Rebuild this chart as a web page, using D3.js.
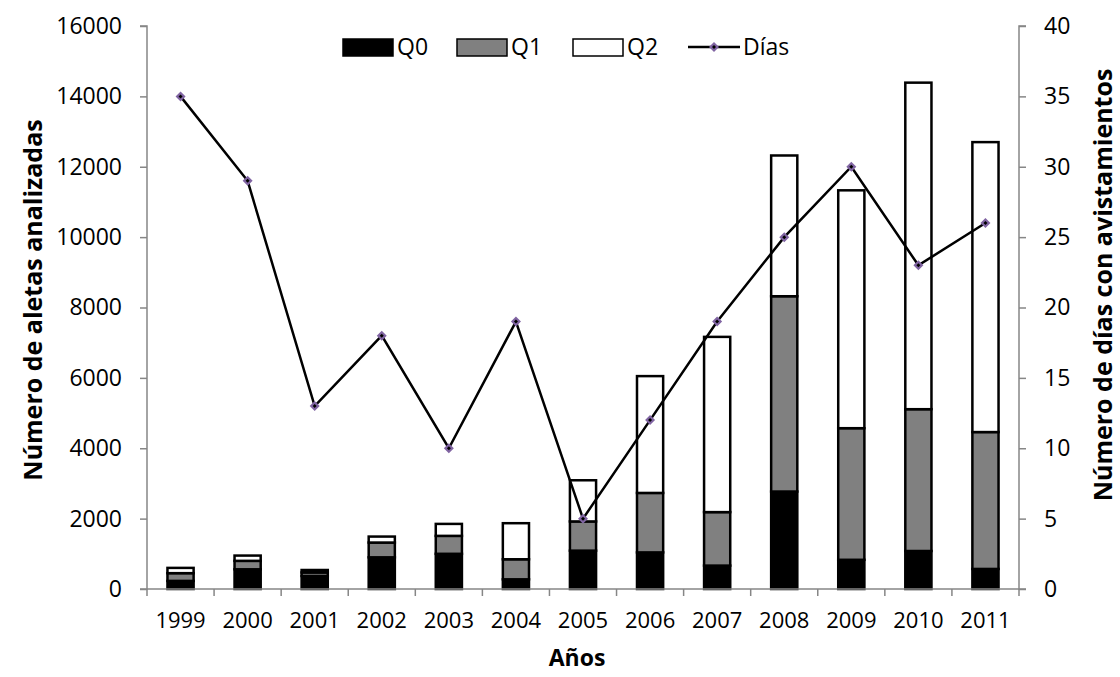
<!DOCTYPE html>
<html>
<head>
<meta charset="utf-8">
<script src="https://cdn.jsdelivr.net/npm/d3@7"></script>
<style>
  body { margin: 0; background: #fff; }
  text { font-family: "Open Sans", sans-serif; fill: #000; }
</style>
</head>
<body>
<svg width="1120" height="677"></svg>
<script>
// data
const years = ['1999','2000','2001','2002','2003','2004','2005','2006','2007','2008','2009','2010','2011'];
const q0 = [230, 560, 370, 900, 1000, 275, 1090, 1040, 665, 2770, 830, 1080, 570];
const q1 = [220, 240, 100, 420, 510, 570, 830, 1690, 1520, 5550, 3740, 4030, 3890];
const q2 = [150, 150, 70, 170, 340, 1025, 1170, 3320, 4980, 4000, 6760, 9280, 8240];
const dias = [35, 29, 13, 18, 10, 19, 5, 12, 19, 25, 30, 23, 26];
const leftTicks = [0, 2000, 4000, 6000, 8000, 10000, 12000, 14000, 16000];
const rightTicks = [0, 5, 10, 15, 20, 25, 30, 35, 40];
const seriesNames = ['Q0', 'Q1', 'Q2'];
const seriesFill = {Q0: '#000', Q1: '#808080', Q2: '#fff'};

const M = {left: 147, right: 1019, top: 26, bottom: 589};
const AXIS = '#868686';

const svg = d3.select('svg');

const x = d3.scaleBand().domain(years).range([M.left, M.right]).paddingInner(0).paddingOuter(0);
const yL = d3.scaleLinear().domain([0, 16000]).range([M.bottom, M.top]);
const yR = d3.scaleLinear().domain([0, 40]).range([M.bottom, M.top]);

// table for the stack
const table = years.map((yr, i) => ({year: yr, Q0: q0[i], Q1: q1[i], Q2: q2[i]}));
const stacked = d3.stack().keys(seriesNames)(table);

const barW = x.bandwidth() * 0.39;

/* ---------- bars ---------- */
const layers = svg.append('g').selectAll('g')
    .data(stacked)
    .join('g')
    .attr('fill', d => seriesFill[d.key]);

layers.selectAll('rect')
    .data(d => d)
    .join('rect')
    .attr('x', d => x(d.data.year) + (x.bandwidth() - barW) / 2)
    .attr('y', d => yL(d[1]))
    .attr('width', barW)
    .attr('height', d => yL(d[0]) - yL(d[1]))
    .attr('stroke', '#000')
    .attr('stroke-width', 2.5);

/* ---------- axes ---------- */
const gL = svg.append('g').attr('transform', `translate(${M.left},0)`)
    .call(d3.axisLeft(yL).tickValues(leftTicks).tickSize(7).tickPadding(18).tickFormat(d3.format('d')));
const gR = svg.append('g').attr('transform', `translate(${M.right},0)`)
    .call(d3.axisRight(yR).tickValues(rightTicks).tickSize(7).tickPadding(18));
const gX = svg.append('g').attr('transform', `translate(0,${M.bottom})`)
    .call(d3.axisBottom(x).tickSize(0).tickPadding(23));

// category boundary ticks on the x axis
gX.selectAll('.bnd')
    .data(years.concat(['end']))
    .join('line')
    .attr('class', 'bnd')
    .attr('x1', (d, i) => i < years.length ? x(d) : M.right)
    .attr('x2', (d, i) => i < years.length ? x(d) : M.right)
    .attr('y1', 0).attr('y2', 7);

[gL, gR, gX].forEach(g => {
  g.select('.domain').attr('stroke', AXIS).attr('stroke-width', 1.5);
  g.selectAll('line').attr('stroke', AXIS).attr('stroke-width', 1.5);
  g.selectAll('text').attr('font-size', 23).attr('font-family', '"Open Sans", sans-serif').attr('fill', '#000');
});
gX.selectAll('text').attr('font-size', 22);
gX.select('.domain').attr('d', `M${M.left},0H${M.right}`);
gL.select('.domain').attr('d', `M-7,${M.top}H0V${M.bottom}H-7`);
gR.select('.domain').attr('d', `M7,${M.top}H0V${M.bottom}H7`);

/* ---------- days line ---------- */
const line = d3.line()
    .x((d, i) => x(years[i]) + x.bandwidth() / 2)
    .y(d => yR(d));

svg.append('path')
    .datum(dias)
    .attr('d', line)
    .attr('fill', 'none')
    .attr('stroke', '#000')
    .attr('stroke-width', 2.5)
    .attr('stroke-linejoin', 'miter');

function marker(g, cx, cy) {
  g.append('path')
    .attr('d', `M${cx},${cy - 5}L${cx + 5},${cy}L${cx},${cy + 5}L${cx - 5},${cy}Z`)
    .attr('fill', '#8064A2');
  g.append('path')
    .attr('d', `M${cx},${cy - 2}L${cx + 2},${cy}L${cx},${cy + 2}L${cx - 2},${cy}Z`)
    .attr('fill', '#000');
}
const mk = svg.append('g');
dias.forEach((d, i) => marker(mk, x(years[i]) + x.bandwidth() / 2, yR(d)));

/* ---------- axis titles ---------- */
svg.append('text')
    .attr('transform', 'translate(42,300) rotate(-90)')
    .attr('text-anchor', 'middle')
    .attr('font-size', 25).attr('font-weight', 700)
    .text('Número de aletas analizadas');
svg.append('text')
    .attr('transform', 'translate(1112,285) rotate(-90)')
    .attr('text-anchor', 'middle')
    .attr('font-size', 25).attr('font-weight', 700)
    .text('Número de días con avistamientos');
svg.append('text')
    .attr('x', (M.left + M.right) / 2 - 6)
    .attr('y', 666)
    .attr('text-anchor', 'middle')
    .attr('font-size', 23).attr('font-weight', 700)
    .text('Años');

/* ---------- legend ---------- */
const legY = 47;
const legX = [343, 457, 573];
seriesNames.forEach((s, i) => {
  svg.append('rect')
    .attr('x', legX[i]).attr('y', legY - 8)
    .attr('width', 50).attr('height', 17)
    .attr('fill', seriesFill[s])
    .attr('stroke', '#000').attr('stroke-width', 1.5);
  svg.append('text')
    .attr('x', legX[i] + 54).attr('y', legY).attr('dy', '0.36em')
    .attr('font-size', 23)
    .text(s);
});
svg.append('line')
  .attr('x1', 688).attr('x2', 740).attr('y1', legY).attr('y2', legY)
  .attr('stroke', '#000').attr('stroke-width', 2.5);
marker(svg, 714, legY);
svg.append('text')
  .attr('x', 743).attr('y', legY).attr('dy', '0.36em')
  .attr('font-size', 23)
  .text('Días');
</script>
</body>
</html>
